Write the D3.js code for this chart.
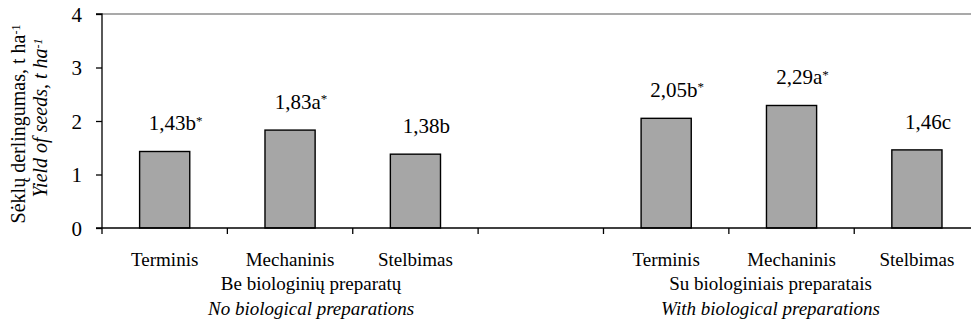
<!DOCTYPE html>
<html>
<head>
<meta charset="utf-8">
<script src="https://cdn.jsdelivr.net/npm/d3@7"></script>
<style>
    body { margin: 0; background: #fff; }
    text { font-family: "Liberation Serif", "Times New Roman", serif; fill: #000; }
</style>
</head>
<body>
<div id="chart"></div>
<script>
// chart values
var methods = ["Terminis", "Mechaninis", "Stelbimas"];
var groupNames = ["Be biologinių preparatų", "Su biologiniais preparatais"];
var groupNamesEn = ["No biological preparations", "With biological preparations"];
var yieldNoBio = [1.43, 1.83, 1.38];
var yieldWithBio = [2.05, 2.29, 1.46];
var lettersNoBio = ["b", "a", "b"];
var lettersWithBio = ["b", "a", "c"];
var starNoBio = [true, true, false];
var starWithBio = [true, true, false];
var yTicks = [0, 1, 2, 3, 4];

function drawChart() {
    // build slots: 3 bars, one empty slot, 3 bars
    var slots = [];
    methods.forEach(function(m, i) {
        slots.push({ "key": "g0-" + m, "method": m, "value": yieldNoBio[i], "letter": lettersNoBio[i], "star": starNoBio[i], "group": 0 });
    });
    slots.push({ "key": "gap", "method": "", "value": null, "group": -1 });
    methods.forEach(function(m, i) {
        slots.push({ "key": "g1-" + m, "method": m, "value": yieldWithBio[i], "letter": lettersWithBio[i], "star": starWithBio[i], "group": 1 });
    });
    var bars = slots.filter(function(d) { return d.value !== null; });

    var fullWidth = 971, fullHeight = 324;
    var plotLeft = 102, plotRight = 979.6, plotTop = 14, plotBottom = 228;

    var svg = d3.select("#chart").append("svg")
        .attr("width", fullWidth)
        .attr("height", fullHeight);

    var x = d3.scaleBand()
        .domain(slots.map(function(d) { return d.key; }))
        .range([plotLeft, plotRight])
        .paddingInner(0.6)
        .paddingOuter(0.3);

    var y = d3.scaleLinear().domain([0, 4]).range([plotBottom, plotTop]);

    var step = x.step();
    var slotStart = function(d) { return x(d.key) - x.paddingOuter() * step; };

    // top frame line
    svg.append("line")
        .attr("x1", plotLeft).attr("x2", fullWidth)
        .attr("y1", y(4)).attr("y2", y(4))
        .attr("stroke", "#8c8c8c").attr("stroke-width", 1.5);

    // bars
    svg.selectAll(".bar").data(bars).enter().append("rect")
        .attr("class", "bar")
        .attr("x", function(d) { return x(d.key); })
        .attr("y", function(d) { return y(d.value); })
        .attr("width", x.bandwidth())
        .attr("height", function(d) { return y(0) - y(d.value); })
        .attr("fill", "#a6a6a6")
        .attr("stroke", "#000")
        .attr("stroke-width", 1.4);

    // y axis
    var yAxis = d3.axisLeft(y).tickValues(yTicks).tickSize(6).tickPadding(14)
        .tickFormat(d3.format("d"));
    var gy = svg.append("g").attr("transform", "translate(" + plotLeft + ",0)").call(yAxis);
    gy.select(".domain").attr("stroke", "#000").attr("stroke-width", 1.3).attr("d", "M-6," + y(4) + "H0V" + y(0));
    gy.selectAll(".tick line").attr("stroke", "#000").attr("stroke-width", 1.3);
    gy.selectAll(".tick text")
        .style("font-family", "'Liberation Serif', serif")
        .style("font-size", "21px")
        .attr("dy", "0.35em");

    // x axis line and slot ticks
    svg.append("line")
        .attr("x1", plotLeft - 6).attr("x2", fullWidth)
        .attr("y1", y(0)).attr("y2", y(0))
        .attr("stroke", "#000").attr("stroke-width", 1.3);
    var boundaries = slots.map(slotStart).concat([plotRight]);
    svg.selectAll(".xtick").data(boundaries).enter().append("line")
        .attr("class", "xtick")
        .attr("x1", function(d) { return d; }).attr("x2", function(d) { return d; })
        .attr("y1", y(0)).attr("y2", y(0) + 6)
        .attr("stroke", "#000").attr("stroke-width", 1.3);

    // category labels
    svg.selectAll(".catLabel").data(bars).enter().append("text")
        .attr("class", "catLabel")
        .attr("x", function(d) { return x(d.key) + x.bandwidth() / 2; })
        .attr("y", 266)
        .attr("text-anchor", "middle")
        .style("font-size", "19px")
        .text(function(d) { return d.method; });

    // value labels
    var labels = svg.selectAll(".valLabel").data(bars).enter().append("text")
        .attr("class", "valLabel")
        .attr("x", function(d) { return x(d.key) + x.bandwidth() / 2 + 11; })
        .attr("y", function(d) { return y(d.value) - 21; })
        .attr("text-anchor", "middle")
        .style("font-size", "21px");
    labels.append("tspan").text(function(d) { return d3.format(".2f")(d.value).replace(".", ",") + d.letter; });
    labels.filter(function(d) { return d.star; }).append("tspan")
        .attr("dy", "-0.45em")
        .style("font-size", "13px")
        .text("*");

    // group labels
    var groupNudge = [21, -21];
    [0, 1].forEach(function(g) {
        var gb = bars.filter(function(d) { return d.group === g; });
        var cx = (slotStart(gb[0]) + slotStart(gb[gb.length - 1]) + step) / 2 + groupNudge[g];
        svg.append("text")
            .attr("x", cx).attr("y", 290)
            .attr("text-anchor", "middle")
            .style("font-size", "19px")
            .text(groupNames[g]);
        svg.append("text")
            .attr("x", cx).attr("y", 315)
            .attr("text-anchor", "middle")
            .style("font-size", "19px")
            .style("font-style", "italic")
            .text(groupNamesEn[g]);
    });

    // y axis title
    var cy = (y(0) + y(4)) / 2;
    var t1 = svg.append("text")
        .attr("transform", "translate(25," + (cy + 3) + ") rotate(-90)")
        .attr("text-anchor", "middle")
        .style("font-size", "20px");
    t1.append("tspan").text("Sėklų derlingumas, t ha");
    t1.append("tspan").attr("dy", "-0.45em").style("font-size", "12px").text("-1");
    var t2 = svg.append("text")
        .attr("transform", "translate(47," + (cy - 3) + ") rotate(-90)")
        .attr("text-anchor", "middle")
        .style("font-size", "20px")
        .style("font-style", "italic");
    t2.append("tspan").text("Yield of seeds, t ha");
    t2.append("tspan").attr("dy", "-0.45em").style("font-size", "12px").text("-1");
}

drawChart();
</script>
</body>
</html>
